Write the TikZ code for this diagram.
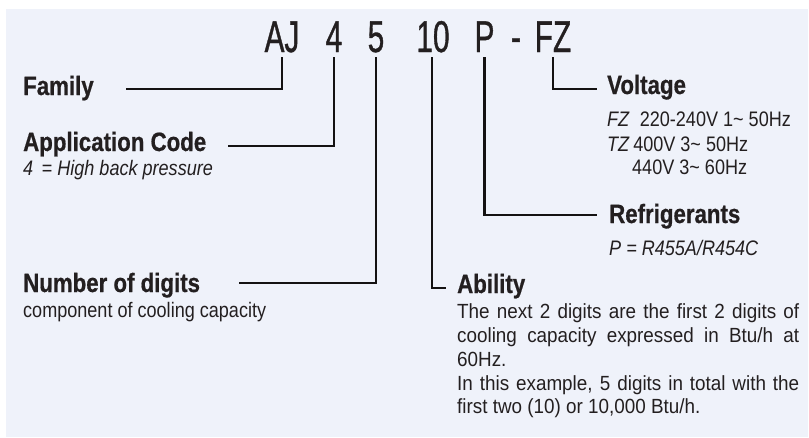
\documentclass[tikz,border=0pt]{standalone}
\usepackage{fontspec}
\setmainfont{Liberation Sans}
\newfontfamily\titlefont[FakeStretch=0.67,FakeBold=0.8]{Liberation Sans}
\newfontfamily\headfont[FakeStretch=0.84,FakeBold=0.6]{Liberation Sans}
\newfontfamily\bodyfont[FakeStretch=0.86]{Liberation Sans}
\newfontfamily\abfont[FakeStretch=0.92]{Liberation Sans}
\definecolor{bg}{RGB}{239,242,250}
\definecolor{txt}{RGB}{35,31,32}
\definecolor{ln}{RGB}{20,18,18}
\tikzset{
  code/.style={font=\titlefont\fontsize{44.5}{50}\selectfont, anchor=base, inner sep=0pt, text=txt},
  head/.style={font=\headfont\bfseries\fontsize{26.5}{30}\selectfont, anchor=base west, inner sep=0pt, text=txt},
  body/.style={font=\bodyfont\fontsize{21}{24}\selectfont, anchor=base west, inner sep=0pt, text=txt},
  abil/.style={font=\abfont\fontsize{20.5}{24}\selectfont, anchor=base west, inner sep=0pt, text=txt},
  lead/.style={draw=ln, line width=2.6pt}
}
\begin{document}
\begin{tikzpicture}[x=1pt,y=-1pt]
\useasboundingbox (0,0) rectangle (809,437);
\fill[bg] (6,9) rectangle (808,437);

% code letters
\node[code] (aj) at (282,52) {AJ};
\node[code] (c4) at (334,52) {4};
\node[code] (c5) at (376,52) {5};
\node[code] (c10) at (433,52) {10};
\node[code] (cp) at (484.5,52) {P};
\node[code] (dash) at (516,52) {-};
\node[code] (fz) at (553,52) {FZ};

% headings
\node[head] (family) at (23,95) {Family};
\node[head] (app) at (23,151) {Application Code};
\node[body] (appd) at (23,175) {\itshape 4\, = High back pressure};
\node[head] (num) at (23,292) {Number of digits};
\node[body] (numd) at (23,317) {component of cooling capacity};

\node[head] (volt) at (607,94) {Voltage};
\node[body] (v1) at (607,126) {\textit{FZ}\ \ 220-240V 1\char"007E\ 50Hz};
\node[body] (v2) at (607,151) {\textit{TZ}\,400V 3\char"007E\ 50Hz};
\node[body] (v3) at (632,174) {440V 3\char"007E\ 60Hz};

\node[head] (refr) at (609,223) {Refrigerants};
\node[body] (refd) at (609,255) {\itshape P = R455A/R454C};

\node[head] (abil) at (457,293) {Ability};
\node[abil] (a1) at (457,318) {\makebox[342pt][s]{The next 2 digits are the first 2 digits of}};
\node[abil] (a2) at (457,342) {\makebox[342pt][s]{cooling capacity expressed in Btu/h at}};
\node[abil] (a3) at (457,366) {60Hz.};
\node[abil] (a4) at (457,390) {\makebox[342pt][s]{In this example, 5 digits in total with the}};
\node[abil] (a5) at (457,413) {first two (10) or 10,000 Btu/h.};

% leader end points
\coordinate (famE) at (126,89);
\coordinate (appE) at (228,146);
\coordinate (numE) at (239,283);
\coordinate (abE) at (446,288);
\coordinate (refE) at (597,215);
\coordinate (volE) at (597,89);

\draw[lead] ([yshift=-5pt]aj.base) |- (famE);
\draw[lead] ([yshift=-5pt]c4.base) |- (appE);
\draw[lead] ([yshift=-5pt]c5.base) |- (numE);
\draw[lead] ([yshift=-5pt,xshift=-1pt]c10.base) |- (abE);
\draw[lead] ([yshift=-5pt]cp.base) |- (refE);
\draw[lead] ([yshift=-5pt]fz.base) |- (volE);
\end{tikzpicture}
\end{document}
